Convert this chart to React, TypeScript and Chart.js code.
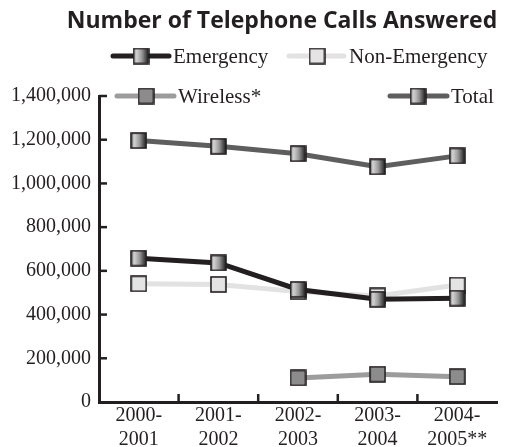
import React, { useEffect, useRef } from 'react';
import { Chart, registerables } from 'chart.js';
Chart.register(...registerables);

const categories: string[][] = [
  ['2000-', '2001'],
  ['2001-', '2002'],
  ['2002-', '2003'],
  ['2003-', '2004'],
  ['2004-', '2005**'],
];
const emergency = [658000, 636000, 515000, 470000, 475000];
const nonEmergency = [541000, 538000, 505000, 485000, 535000];
const wireless = [null, null, 110000, 127000, 116000];
const total = [1196000, 1170000, 1136000, 1076000, 1126000];
const yTicks = [0, 200000, 400000, 600000, 800000, 1000000, 1200000, 1400000];
const title = 'Number of Telephone Calls Answered';
const seriesNames = ['Emergency', 'Non-Emergency', 'Wireless*', 'Total'];

const INK = '#231f20';
const SERIF = '"Liberation Serif", "Times New Roman", serif';

function makeMarker(kind: 'grad' | 'light' | 'mid'): HTMLCanvasElement {
  const s = 17;
  const c = document.createElement('canvas');
  c.width = s;
  c.height = s;
  const ctx = c.getContext('2d')!;
  if (kind === 'grad') {
    const g = ctx.createLinearGradient(1, 0, s - 1, 0);
    g.addColorStop(0, '#6a6a6a');
    g.addColorStop(0.18, '#d6d6d6');
    g.addColorStop(0.55, '#9a9a9a');
    g.addColorStop(1, '#1e1e1e');
    ctx.fillStyle = g;
  } else if (kind === 'light') {
    ctx.fillStyle = '#e4e4e4';
  } else {
    ctx.fillStyle = '#8c8c8c';
  }
  ctx.fillRect(1, 1, s - 2, s - 2);
  ctx.strokeStyle = INK;
  ctx.lineWidth = 1.6;
  ctx.strokeRect(1, 1, s - 2, s - 2);
  return c;
}

export default function App() {
  const ref = useRef<HTMLCanvasElement | null>(null);
  useEffect(() => {
    document.body.style.margin = '0';
    document.body.style.overflow = 'hidden';
    const gradM = makeMarker('grad');
    const lightM = makeMarker('light');
    const midM = makeMarker('mid');

    const colors = [INK, '#e2e2e2', '#9c9c9c', '#5e5e5e'];
    const markers = [gradM, lightM, midM, gradM];

    const overlay = {
      id: 'overlay',
      afterDraw(chart: any) {
        const ctx = chart.ctx as CanvasRenderingContext2D;
        const ca = chart.chartArea;
        const ys = chart.scales.y;
        const xs = chart.scales.x;
        ctx.save();
        // y ticks inward
        ctx.strokeStyle = INK;
        ctx.lineWidth = 2.5;
        yTicks.forEach((v) => {
          if (v === 0) return;
          const py = ys.getPixelForValue(v);
          ctx.beginPath();
          ctx.moveTo(ca.left, py);
          ctx.lineTo(ca.left + 8, py);
          ctx.stroke();
        });
        // x ticks between categories, upward
        for (let i = 1; i < categories.length; i++) {
          const px = (xs.getPixelForValue(i - 1) + xs.getPixelForValue(i)) / 2;
          ctx.beginPath();
          ctx.moveTo(px, ca.bottom);
          ctx.lineTo(px, ca.bottom - 8);
          ctx.stroke();
        }
        // title
        ctx.fillStyle = INK;
        ctx.font = 'bold 23px "Open Sans", "DejaVu Sans", sans-serif';
        ctx.textAlign = 'center';
        ctx.textBaseline = 'middle';
        ctx.fillText(title, 282, 21);
        // legend
        const items = [
          { x0: 113, x1: 169, mx: 141, tx: 173, y: 56 },
          { x0: 289, x1: 344, mx: 317, tx: 349, y: 56 },
          { x0: 117, x1: 174, mx: 146, tx: 178, y: 96 },
          { x0: 390, x1: 447, mx: 418, tx: 451, y: 96 },
        ];
        ctx.font = `21px ${SERIF}`;
        ctx.textAlign = 'left';
        items.forEach((it, i) => {
          ctx.strokeStyle = colors[i];
          ctx.lineWidth = 5;
          ctx.lineCap = 'round';
          ctx.beginPath();
          ctx.moveTo(it.x0, it.y);
          ctx.lineTo(it.x1, it.y);
          ctx.stroke();
          const m = markers[i];
          ctx.drawImage(m, it.mx - m.width / 2, it.y - m.height / 2);
          ctx.fillStyle = INK;
          ctx.fillText(seriesNames[i], it.tx, it.y + 1);
        });
        ctx.restore();
      },
    };

    const ds = (label: string, data: any[], i: number) => ({
      label,
      data,
      borderColor: colors[i],
      borderWidth: 5,
      pointStyle: markers[i],
      pointRadius: 8,
      pointHoverRadius: 8,
      tension: 0,
      spanGaps: false,
    });

    const chart = new Chart(ref.current!, {
      type: 'line',
      data: {
        labels: categories as any,
        datasets: [
          ds(seriesNames[0], emergency, 0),
          ds(seriesNames[1], nonEmergency, 1),
          ds(seriesNames[2], wireless, 2),
          ds(seriesNames[3], total, 3),
        ],
      },
      options: {
        animation: false,
        responsive: false,
        devicePixelRatio: 1,
        layout: { padding: { top: 96, right: 0, left: 0, bottom: 0 } },
        plugins: { legend: { display: false }, title: { display: false }, tooltip: { enabled: false } },
        scales: {
          x: {
            offset: true,
            grid: { display: false, drawTicks: false },
            border: { display: true, color: INK, width: 3 },
            ticks: { color: INK, font: { family: SERIF, size: 20, lineHeight: 1.2 }, padding: 2, maxRotation: 0, autoSkip: false },
            afterFit: (s: any) => { s.height = 45; },
          },
          y: {
            min: 0,
            max: 1400000,
            afterBuildTicks: (s: any) => { s.ticks = yTicks.map((v) => ({ value: v })); },
            grid: { display: false, drawTicks: false },
            border: { display: true, color: INK, width: 3 },
            ticks: {
              color: INK,
              font: { family: SERIF, size: 20 },
              padding: 8,
              callback: (v: any) => Number(v).toLocaleString('en-US'),
            },
            afterFit: (s: any) => { s.width = 99; },
          },
        },
      },
      plugins: [overlay],
    });
    return () => chart.destroy();
  }, []);
  return <canvas ref={ref} width={510} height={447} style={{ display: 'block' }} />;
}
